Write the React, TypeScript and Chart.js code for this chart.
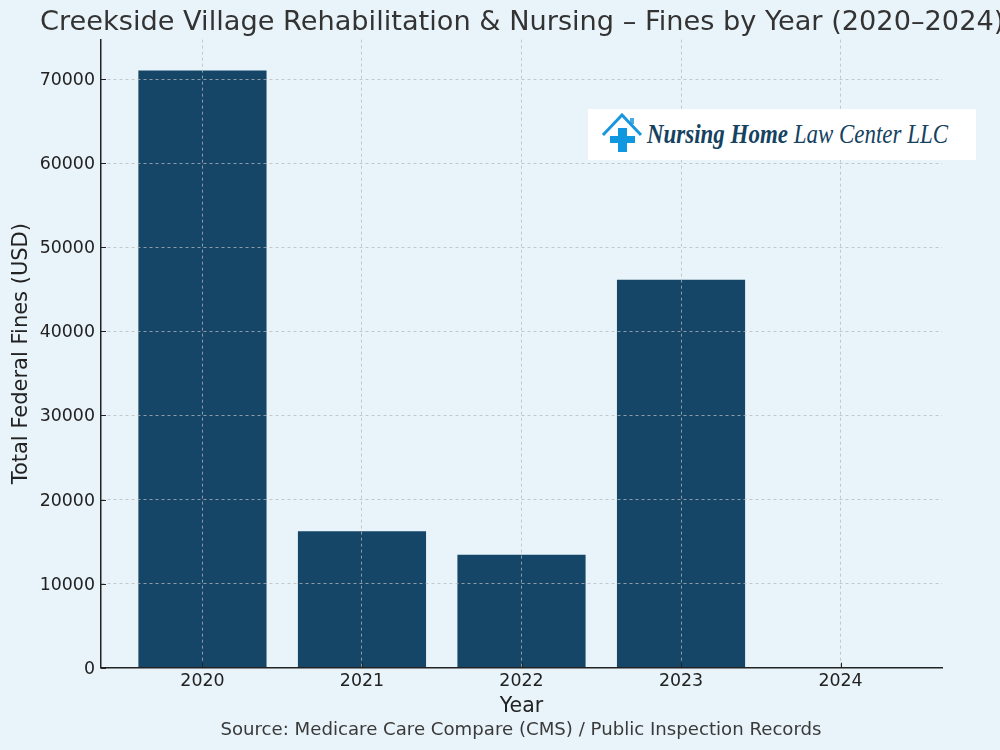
import React, { useEffect, useRef } from "react";
import { Chart, registerables } from "chart.js";

Chart.register(...registerables);

const years = [2020, 2021, 2022, 2023, 2024];
const fines = [71000, 16200, 13400, 46100, 0];
const yTicks = [0, 10000, 20000, 30000, 40000, 50000, 60000, 70000];
const titleText = "Creekside Village Rehabilitation & Nursing – Fines by Year (2020–2024)";
const sourceText = "Source: Medicare Care Compare (CMS) / Public Inspection Records";
const yTitle = "Total Federal Fines (USD)";
const xTitle = "Year";

const BG = "#e9f4fa";
const BAR = "#154667";
const GRID = "rgba(180,184,188,0.75)";
const FONT = "'DejaVu Sans'";

const layoutTweaks = {
  id: "layoutTweaks",
  afterLayout(chart: any) {
    chart.boxes.forEach((box: any) => {
      if (box.options?.text === titleText) {
        box.left = 40;
        box.right = 1100;
      }
      if (box.options?.text === sourceText) {
        box.left = 42;
        box.right = 1000;
      }
    });
  },
};

const innerTicks = {
  id: "innerTicks",
  afterDraw(chart: any) {
    const { ctx, chartArea, scales } = chart;
    ctx.save();
    ctx.strokeStyle = "#222";
    ctx.lineWidth = 1;
    ctx.beginPath();
    yTicks.forEach((v) => {
      const y = Math.round(scales.y.getPixelForValue(v)) + 0.5;
      ctx.moveTo(chartArea.left, y);
      ctx.lineTo(chartArea.left + 5, y);
    });
    years.forEach((v) => {
      const x = Math.round(scales.x.getPixelForValue(v)) + 0.5;
      ctx.moveTo(x, chartArea.bottom);
      ctx.lineTo(x, chartArea.bottom - 5);
    });
    ctx.stroke();
    ctx.restore();
  },
};

export default function App() {
  const ref = useRef<HTMLCanvasElement>(null);

  useEffect(() => {
    document.body.style.margin = "0";
    document.body.style.background = BG;
    document.body.style.overflow = "hidden";
    const chart = new Chart(ref.current as HTMLCanvasElement, {
      type: "bar",
      data: {
        datasets: [
          {
            label: "Fines",
            data: years.map((y, i) => ({ x: y, y: fines[i] })),
            backgroundColor: BAR,
            barThickness: 127.5,
          },
        ],
      },
      plugins: [layoutTweaks, innerTicks],
      options: {
        responsive: false,
        animation: false,
        layout: { padding: { left: 0, right: 58, top: 0, bottom: 9 } },
        plugins: {
          legend: { display: false },
          tooltip: { enabled: false },
          title: {
            display: true,
            text: titleText,
            align: "start",
            color: "#333333",
            font: { family: FONT, size: 27.2, weight: "normal" },
            padding: { top: 7, bottom: 0 },
          },
          subtitle: {
            display: true,
            text: sourceText,
            position: "bottom",
            align: "center",
            color: "#3a3a3a",
            font: { family: FONT, size: 18.15, weight: "normal" },
            padding: 0,
          },
        },
        scales: {
          x: {
            type: "linear",
            offset: false,
            min: 2019.364,
            max: 2024.636,
            afterBuildTicks(scale: any) {
              scale.ticks = years.map((value) => ({ value }));
            },
            afterFit(scale: any) {
              scale.height = 51.5;
            },
            ticks: {
              autoSkip: false,
              maxRotation: 0,
              padding: 3,
              color: "#222222",
              font: { family: FONT, size: 17.4 },
              callback: (v: any) => String(v),
            },
            grid: {
              offset: false,
              z: 1,
              drawTicks: false,
              color: GRID,
              lineWidth: 1,
            },
            border: { display: true, color: "#222222", width: 1.5, dash: [3, 3], z: 2 },
            title: {
              display: true,
              text: xTitle,
              color: "#222222",
              font: { family: FONT, size: 20.5 },
              padding: { top: 2, bottom: 0 },
            },
          },
          y: {
            type: "linear",
            min: 0,
            max: 74700,
            afterBuildTicks(scale: any) {
              scale.ticks = yTicks.map((value) => ({ value }));
            },
            afterFit(scale: any) {
              scale.width = 101;
            },
            ticks: {
              padding: 6,
              labelOffset: 1.5,
              color: "#222222",
              font: { family: FONT, size: 17.4 },
              callback: (v: any) => String(v),
            },
            grid: {
              z: 1,
              drawTicks: false,
              color: GRID,
              lineWidth: 1,
            },
            border: { display: true, color: "#222222", width: 1.5, dash: [3, 3], z: 2 },
            title: {
              display: true,
              text: yTitle,
              color: "#222222",
              font: { family: FONT, size: 21 },
              padding: { top: 9, bottom: 0 },
            },
          },
        },
      } as any,
    } as any);
    return () => chart.destroy();
  }, []);

  return (
    <div style={{ position: "relative", width: 1000, height: 750, background: BG, overflow: "hidden" }}>
      <canvas ref={ref} width={1000} height={750} style={{ display: "block" }} />
      <div style={{ position: "absolute", left: 588, top: 109, width: 388, height: 51, background: "#ffffff" }}>
        <svg width={44} height={44} viewBox="0 0 44 44" style={{ position: "absolute", left: 12, top: 4 }}>
          <path d="M3 22 L22 2 L41 22" fill="none" stroke="#1a97dc" strokeWidth={3} />
          <path d="M30 5 h4 v6 h-4 z" fill="#1a97dc" opacity={0.8} />
          <path d="M18 15 h9 v8 h8 v7 h-8 v9 h-9 v-9 h-8 v-7 h8 z" fill="#0f97e0" />
        </svg>
        <div
          style={{
            position: "absolute",
            left: 59,
            top: 10,
            whiteSpace: "nowrap",
            fontFamily: "'Liberation Serif'",
            fontStyle: "italic",
            fontSize: 27,
            color: "#14425f",
            transform: "scaleX(0.85)",
            transformOrigin: "left center",
          }}
        >
          <b>Nursing Home</b> Law Center LLC
        </div>
      </div>
    </div>
  );
}
